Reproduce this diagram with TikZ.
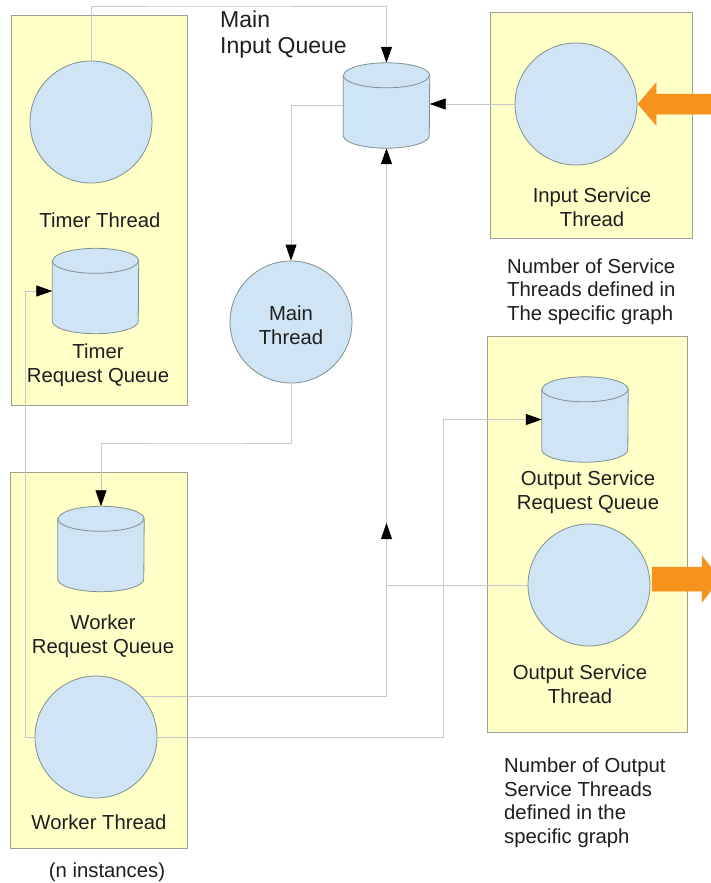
\documentclass[tikz,border=0pt]{standalone}
\usepackage{fontspec}
\setmainfont{Liberation Sans}
\usetikzlibrary{arrows.meta,calc}

\pgfdeclarelayer{back}
\pgfdeclarelayer{links}
\pgfsetlayers{back,links,main}

\definecolor{boxfill}{HTML}{FFFFC8}
\definecolor{boxline}{HTML}{A0A090}
\definecolor{circfill}{HTML}{CFE4F4}
\definecolor{circline}{HTML}{7F9090}
\definecolor{linkc}{HTML}{C8C8C8}
\definecolor{feedc}{HTML}{F7921C}
\definecolor{textc}{HTML}{1E1E1E}

% queue drawn as a cylinder around a named body node (width 86pt)
\newcommand\queueshape[1]{%
  \filldraw[qshape]
    ($(#1.north west)+(0pt,-12.5pt)$) -- ($(#1.south west)+(0pt,12.5pt)$)
    arc[start angle=180,end angle=360,x radius=43pt,y radius=12.5pt]
    -- ($(#1.north east)+(0pt,-12.5pt)$)
    arc[start angle=0,end angle=180,x radius=43pt,y radius=12.5pt] -- cycle;
  \draw[qshape,fill=none]
    ($(#1.north west)+(0pt,-12.5pt)$)
    arc[start angle=180,end angle=360,x radius=43pt,y radius=12.5pt];
}

\tikzset{
  tbox/.style={rectangle, draw=boxline, fill=boxfill, line width=0.8pt, inner sep=0pt},
  thr/.style={circle, draw=circline, fill=circfill, line width=0.8pt,
              minimum size=122pt, inner sep=0pt},
  qbody/.style={rectangle, inner sep=0pt, minimum width=86pt, minimum height=85pt},
  qshape/.style={draw=circline, fill=circfill, line width=0.8pt},
  link/.style={draw=linkc, line width=0.8pt},
  tolink/.style={link, -{Triangle[length=16pt,width=11pt,color=black,fill=black]}},
  % labels are placed by the baseline of their last line
  lbl/.style={align=center, inner sep=0pt, anchor=base, text=textc},
  note/.style={align=left, inner sep=0pt, anchor=base west, text=textc},
  feed/.style={fill=feedc, draw=feedc, line width=0.5pt},
}

\begin{document}
\begin{tikzpicture}[x=1pt, y=-1pt, font=\fontsize{20.3}{23.5}\selectfont]
  \useasboundingbox (0,0) rectangle (711,883);

  % thread containers
  \begin{pgfonlayer}{back}
    \fill[white] (0,0) rectangle (711,883);
    \node[tbox, minimum width=176pt, minimum height=390pt] (timerbox) at (99,210) {};
    \node[tbox, minimum width=202pt, minimum height=226pt] (inbox) at (591,125) {};
    \node[tbox, minimum width=200pt, minimum height=396pt] (outbox) at (587,534) {};
    \node[tbox, minimum width=177pt, minimum height=376pt] (workbox) at (98.5,660) {};
  \end{pgfonlayer}

  % threads
  \node[thr] (tt)  at (91,122) {};
  \node[thr] (ist) at (576,104) {};
  \node[thr] (mt)  at (291,322) {};
  \node[thr] (wt)  at (96,737) {};
  \node[thr] (ost) at (589,585) {};

  % queues
  \node[qbody] (mq) at (386.5,105.5) {};
  \node[qbody] (tq) at (95.5,291) {};
  \node[qbody] (wq) at (101,549) {};
  \node[qbody] (oq) at (585,419.5) {};
  \queueshape{mq}
  \queueshape{tq}
  \queueshape{wq}
  \queueshape{oq}

  % message paths
  \begin{pgfonlayer}{links}
    \coordinate (ceil) at (200,6);
    \draw[tolink] (tt.north) |- (ceil) -| (mq.north);
    \draw[tolink] (ist.west) -- (ist.west -| mq.east);
    \draw[tolink] (mq.west) -| (mt.north);
    \draw[tolink] (wt.42) -| (mq.south);
    \coordinate (uptip) at (386.5,523);
    \draw[tolink] (ost.west) -| (uptip);
    \coordinate (j6) at (443.5,419.5);
    \draw[tolink] (wt.east) -| (j6) -- (oq.west);
    \coordinate (j7) at (25,291);
    \draw[tolink] (wt.west) -| (j7) -- (tq.west);
    \coordinate (j8) at (200,443);
    \draw[tolink] (mt.south) |- (j8) -| (wq.north);
  \end{pgfonlayer}

  % external input and output
  \fill[feed] (638,104) -- (656,83) -- (656,94) -- (720,94) -- (720,114)
              -- (656,114) -- (656,125) -- cycle;
  \fill[feed] (652,567) -- (702,567) -- (702,556) -- (720,579) -- (702,602)
              -- (702,591) -- (652,591) -- cycle;

  % labels
  \node[note, font=\fontsize{23}{25}\selectfont] (lmq) at (220,53) {Main\\Input Queue};
  \node[lbl] (ltt) at (100,227) {Timer Thread};
  \node[lbl] (ltq) at (98,382) {Timer\\Request Queue};
  \node[lbl] (lmt) at (291,344) {Main\\Thread};
  \node[lbl] (list) at (592,226) {Input Service\\Thread};
  \node[note] (nin) at (507,320) {Number of Service\\Threads defined in\\The specific graph};
  \node[lbl] (loq) at (588,509) {Output Service\\Request Queue};
  \node[lbl] (lost) at (580,703) {Output Service\\Thread};
  \node[note] (nout) at (504,843) {Number of Output\\Service Threads\\defined in the\\specific graph};
  \node[lbl] (lwq) at (103,653) {Worker\\Request Queue};
  \node[lbl] (lwt) at (99,829) {Worker Thread};
  \node[lbl] (ln) at (107,877) {(n instances)};
\end{tikzpicture}
\end{document}
